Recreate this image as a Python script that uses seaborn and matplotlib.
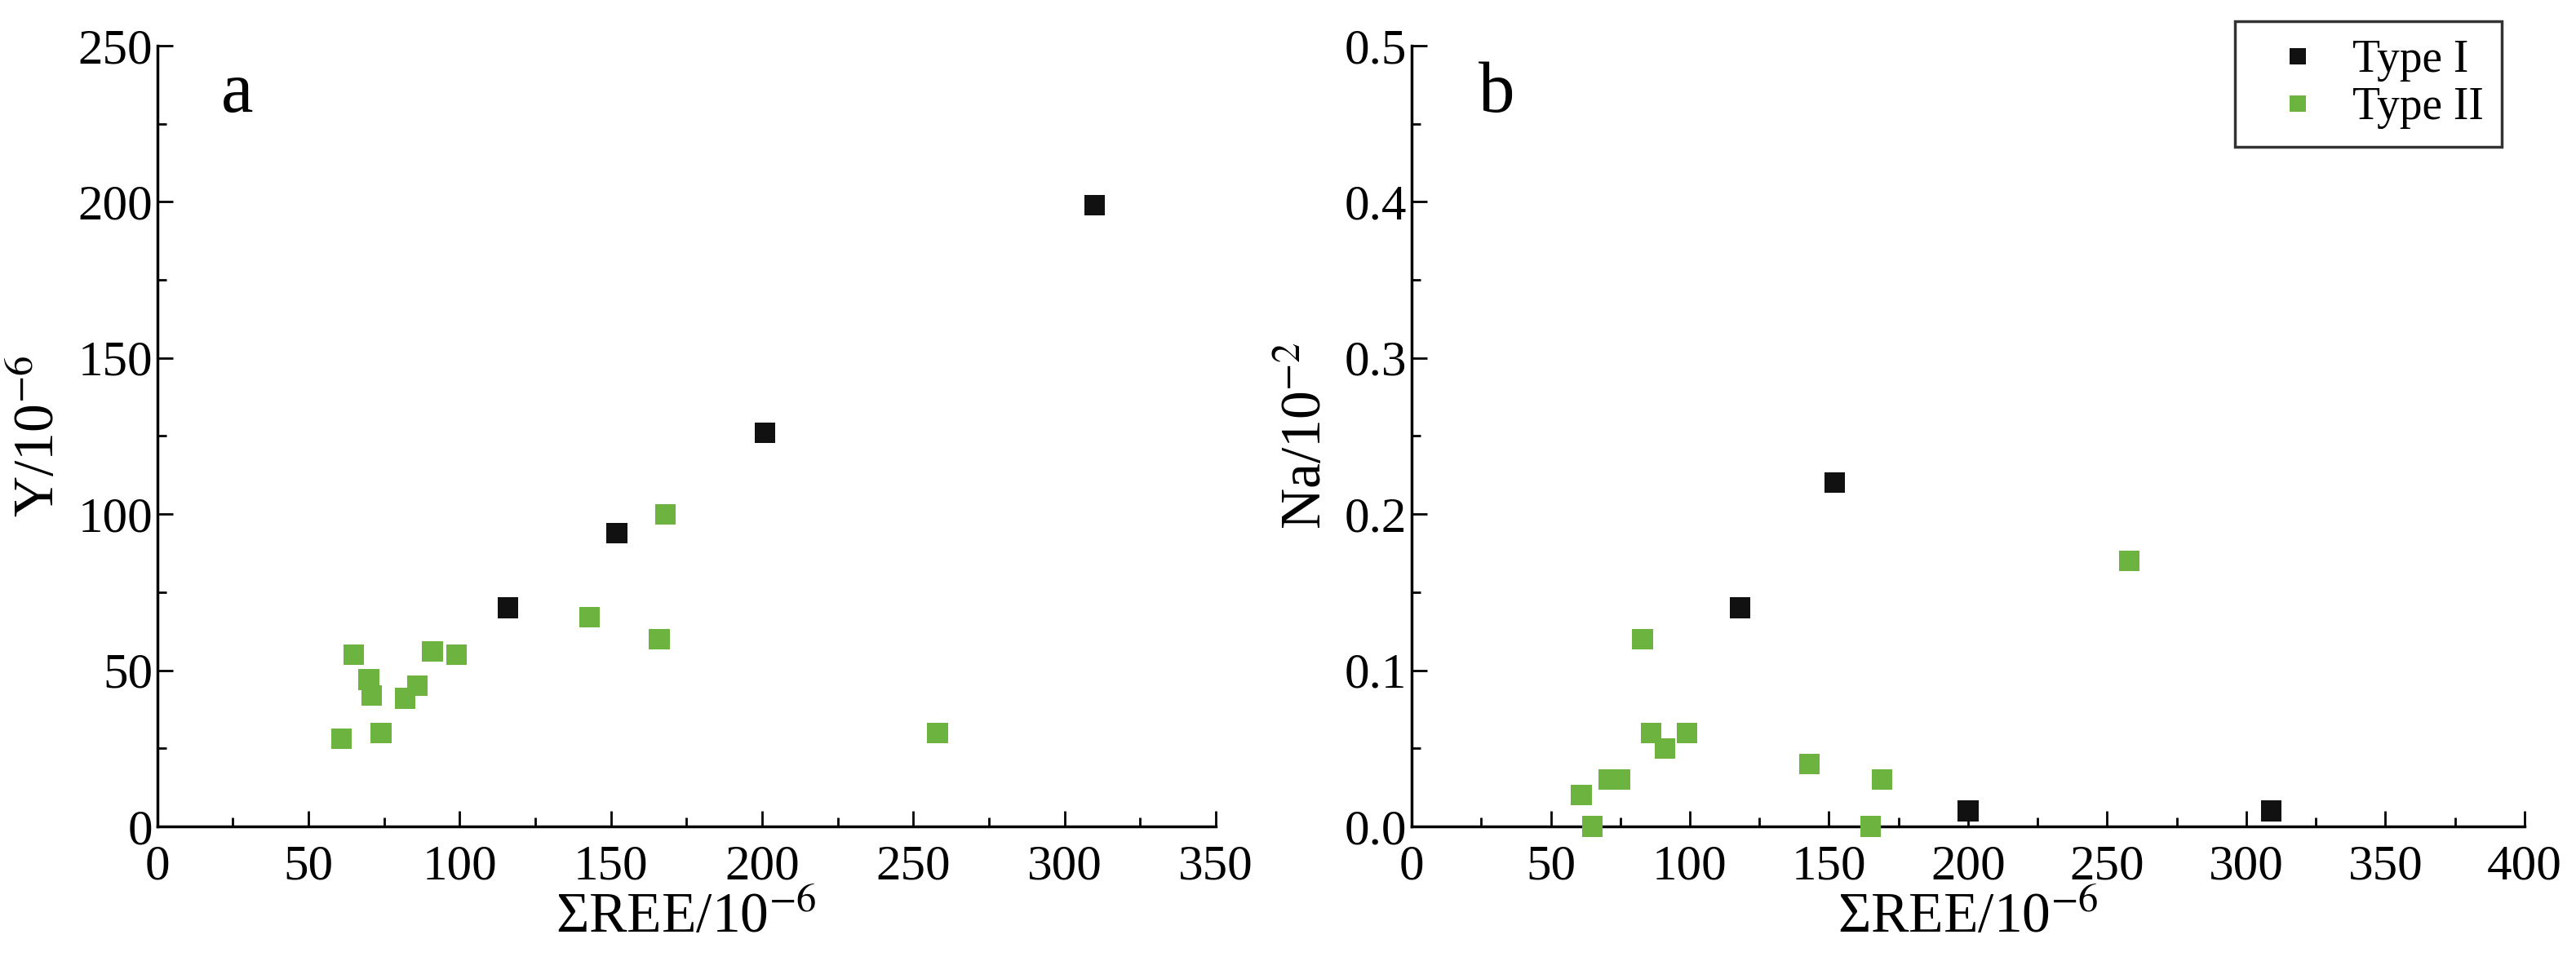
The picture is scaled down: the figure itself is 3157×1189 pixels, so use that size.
import numpy as np
import pandas as pd
import matplotlib
matplotlib.use("Agg")
import matplotlib.pyplot as plt
import seaborn as sns
from matplotlib.ticker import MultipleLocator

# panel a: sum REE vs Y
a_type1_ree = [116, 152, 201, 310]
a_type1_y = [70, 94, 126, 199]
a_type2_ree = [61, 65, 70, 71, 74, 82, 86, 91, 99, 143, 166, 168, 258]
a_type2_y = [28, 55, 47, 42, 30, 41, 45, 56, 55, 67, 60, 100, 30]

# panel b: sum REE vs Na
b_type1_ree = [118, 152, 200, 309]
b_type1_na = [0.14, 0.22, 0.01, 0.01]
b_type2_ree = [61, 65, 71, 75, 83, 86, 91, 99, 143, 165, 169, 258]
b_type2_na = [0.02, 0.0, 0.03, 0.03, 0.12, 0.06, 0.05, 0.06, 0.04, 0.0, 0.03, 0.17]

types = ["Type I", "Type II"]
palette = {"Type I": "#111111", "Type II": "#6cb33f"}

df_a = pd.DataFrame({
    "ree": a_type1_ree + a_type2_ree,
    "val": a_type1_y + a_type2_y,
    "type": [types[0]] * len(a_type1_ree) + [types[1]] * len(a_type2_ree),
})
df_b = pd.DataFrame({
    "ree": b_type1_ree + b_type2_ree,
    "val": b_type1_na + b_type2_na,
    "type": [types[0]] * len(b_type1_ree) + [types[1]] * len(b_type2_ree),
})

sns.set_style("ticks")
plt.rcParams["font.family"] = ["Liberation Serif", "DejaVu Serif"]
plt.rcParams["mathtext.fontset"] = "stix"
for k in ["text.color", "axes.labelcolor", "xtick.color", "ytick.color", "axes.edgecolor"]:
    plt.rcParams[k] = "black"

fig = plt.figure(figsize=(31.57, 11.89), dpi=100)
ax1 = fig.add_axes([0.061, 0.148, 0.411, 0.805])
ax2 = fig.add_axes([0.548, 0.148, 0.432, 0.805])

panels = [
    (ax1, df_a, 350, 250, 50, 25, r"Y/10$^{-6}$", "a", "{:.0f}"),
    (ax2, df_b, 400, 0.5, 0.1, 0.05, r"Na/10$^{-2}$", "b", "{:.1f}"),
]
for ax, df, xmax, ymax, ymaj, ymin, ylab, letter, fmt in panels:
    sns.scatterplot(data=df, x="ree", y="val", hue="type", palette=palette,
                    marker="s", s=330, edgecolor="none", ax=ax,
                    legend=(ax is ax2), clip_on=False, zorder=3)
    ax.set_xlim(0, xmax)
    ax.set_ylim(0, ymax)
    ax.xaxis.set_major_locator(MultipleLocator(50))
    ax.xaxis.set_minor_locator(MultipleLocator(25))
    ax.yaxis.set_major_locator(MultipleLocator(ymaj))
    ax.yaxis.set_minor_locator(MultipleLocator(ymin))
    ax.set_yticklabels([fmt.format(v) for v in ax.get_yticks()])
    ax.tick_params(which="major", direction="in", length=14, width=2, labelsize=44)
    ax.tick_params(which="minor", direction="in", length=8, width=2)
    ax.tick_params(axis="y", pad=4)
    ax.tick_params(axis="x", pad=16)
    for s in ["top", "right"]:
        ax.spines[s].set_visible(False)
    for s in ["left", "bottom"]:
        ax.spines[s].set_linewidth(2.5)
    ax.set_xlabel(r"ΣREE/10$^{-6}$", fontsize=50, labelpad=2)
    ax.set_ylabel(ylab, fontsize=50, labelpad=10)
    ax.text(0.06, 0.98, letter, transform=ax.transAxes, fontsize=64, va="top")

leg = ax2.legend(loc="upper right", bbox_to_anchor=(1.0, 1.06), fontsize=40,
                 frameon=True, fancybox=False, edgecolor="black",
                 handletextpad=0.2, borderpad=0.4, labelspacing=0.1,
                 markerscale=0.8)
leg.get_frame().set_linewidth(2.5)
leg.set_title(None)

fig.savefig("out.png", dpi=100)
